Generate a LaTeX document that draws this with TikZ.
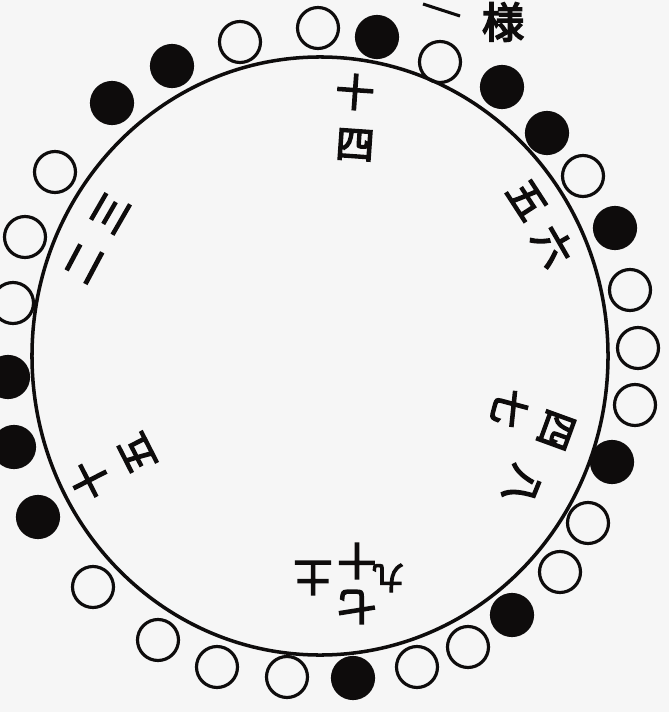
\documentclass[tikz,border=0pt]{standalone}
\usepackage{fontspec}
\newfontfamily\jpfont[FakeBold=4]{Noto Sans CJK JP}
\usetikzlibrary{positioning}
\definecolor{ink}{RGB}{14,12,12}
\definecolor{paper}{RGB}{246,246,246}
\tikzset{
    line cap=round,
    line join=round,
    rim/.style={draw=ink, line width=3pt},
    stone/.style={
        circle,
        draw=ink,
        line width=2.7pt,
        minimum size=1.23cm,
        inner sep=0pt
    },
    blackstone/.style={stone, fill=ink},
    whitestone/.style={stone, fill=none},
    numeral/.style={
        font=\jpfont\fontsize{33}{33}\selectfont,
        text=ink,
        inner sep=0pt
    },
    edgemark/.style={
        font=\jpfont\fontsize{36}{36}\selectfont,
        text=ink,
        inner sep=0pt
    }
}

\begin{document}
\begin{tikzpicture}[x=0.03cm, y=-0.03cm]

\fill[paper] (0,0) rectangle (669,712);
\useasboundingbox (0,0) rectangle (669,712);

% the ring
\draw[rim] (320,356) ellipse [x radius=8.64cm, y radius=8.97cm];

% thirty stones, clockwise from the top
\foreach \i/\x/\y/\kind in {
    1/240/42/whitestone, 2/318/28/whitestone, 3/377/37/blackstone,
    4/440/62/whitestone, 5/502/87/blackstone, 6/547/133/blackstone,
    7/583/176/whitestone, 8/615/228/blackstone, 9/630/290/whitestone,
    10/638/348/whitestone, 11/635/405/whitestone, 12/612/462/blackstone,
    13/588/523/whitestone, 14/560/572/whitestone, 15/512/615/blackstone,
    16/468/647/whitestone, 17/417/667/whitestone, 18/353/678/blackstone,
    19/287/677/whitestone, 20/217/667/whitestone, 21/158/640/whitestone,
    22/93/587/whitestone, 23/38/517/blackstone, 24/14/447/blackstone,
    25/8/377/blackstone, 26/13/303/whitestone, 27/25/237/whitestone,
    28/55/172/whitestone, 29/112/103/blackstone, 30/172/66/blackstone%
} {
    \node[\kind] (s\i) at (\x,\y) {};
}

% counts written inside the ring
\node[numeral, rotate=-4] (topa) at (355,92) {十};
\node[numeral, rotate=-4] (topb) at (355,145) {四};

\node[numeral, rotate=-57] (nea) at (527,200) {五};
\node[numeral, rotate=-60] (neb) at (553,246) {六};

\node[numeral, rotate=-105] (ea) at (510,408) {七};
\node[numeral, rotate=-110] (eb) at (556,430) {四};
\node[numeral, rotate=-112] (ec) at (522,485) {八};

\node[numeral, rotate=180] (sa) at (313,578) {土};
\node[numeral, rotate=180] (sb) at (357,561) {十};
\node[numeral, rotate=180, scale=0.8] (sc) at (388,578) {九};
\node[numeral, rotate=180] (sd) at (357,607) {七};

\node[numeral, rotate=117] (swa) at (137,453) {五};
\node[numeral, rotate=117] (swb) at (90,480) {十};

\node[numeral, rotate=60] (nwa) at (110,213) {三};
\node[numeral, rotate=62] (nwb) at (84,263) {二};

% margin writing near the edge
\coordinate (marka) at (423,4);
\coordinate (markb) at (460,16);
\draw[ink, line width=2.6pt] (marka) -- (markb);
\node[edgemark] (sama) at (503,22) {様};

\end{tikzpicture}
\end{document}
